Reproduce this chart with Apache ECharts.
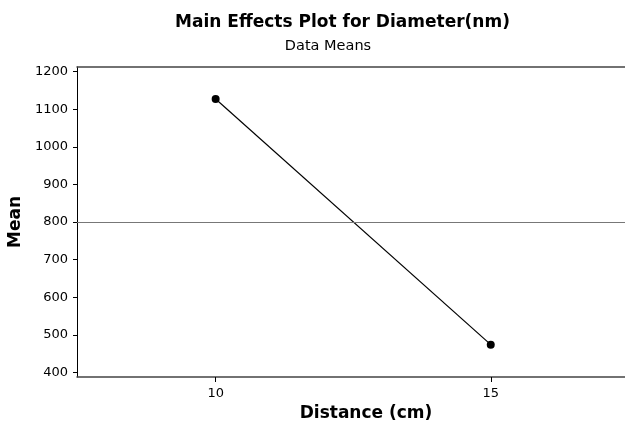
<!DOCTYPE html>
<html>
<head>
<meta charset="utf-8">
<script src="https://cdn.jsdelivr.net/npm/echarts@6/dist/echarts.min.js"></script>
<style>
html,body{margin:0;padding:0;background:#fff;}
#c{width:625px;height:422px;}
</style>
</head>
<body>
<div id="c"></div>
<script>
var distances = [10, 15];
var means = [1127, 474];
var grandMean = 800.5;
var yTicks = [400, 500, 600, 700, 800, 900, 1000, 1100, 1200];
var xTicks = [10, 15];

var FONT = '"DejaVu Sans", Verdana, sans-serif';
var chart = echarts.init(document.getElementById('c'), null, {renderer: 'canvas'});
chart.setOption({
  animation: false,
  backgroundColor: '#fff',
  title: [
    {text: 'Main Effects Plot for Diameter(nm)', left: 337.5, top: 9, textAlign: 'center',
     textStyle: {fontFamily: FONT, fontSize: 17, fontWeight: 'bold', color: '#000'}},
    {text: 'Data Means', left: 323, top: 34, textAlign: 'center',
     textStyle: {fontFamily: FONT, fontSize: 14.5, fontWeight: 'normal', color: '#000'}}
  ],
  grid: {left: 77, top: 67, right: 0, bottom: 45, show: false, containLabel: false, outerBoundsMode: 'none'},
  xAxis: [{
    type: 'value', min: 7.48, max: 17.44,
    name: 'Distance (cm)', nameLocation: 'middle', nameGap: 28,
    nameTextStyle: {fontFamily: FONT, fontSize: 17, fontWeight: 'bold', color: '#000', padding: [0, 0, 0, 30]},
    axisLine: {lineStyle: {color: '#444', width: 1.5}},
    axisTick: {show: true, inside: false, length: 5, customValues: xTicks, lineStyle: {color: '#000'}},
    axisLabel: {customValues: xTicks, margin: 10, fontFamily: FONT, fontSize: 13, color: '#000'},
    splitLine: {show: false}
  }, {
    type: 'value', position: 'top', min: 7.48, max: 17.44,
    axisLine: {show: true, lineStyle: {color: '#444', width: 1.5}},
    axisTick: {show: false}, axisLabel: {show: false}, splitLine: {show: false}
  }],
  yAxis: {
    type: 'value', min: 388, max: 1212,
    name: 'Mean', nameLocation: 'middle', nameGap: 48, nameRotate: 90,
    nameTextStyle: {fontFamily: FONT, fontSize: 17, fontWeight: 'bold', color: '#000'},
    axisLine: {show: true, lineStyle: {color: '#000', width: 1}},
    axisTick: {show: true, inside: false, length: 4, customValues: yTicks, lineStyle: {color: '#000'}},
    axisLabel: {customValues: yTicks, margin: 9, fontFamily: FONT, fontSize: 13, color: '#000',
                formatter: function (v) { return String(v); }},
    splitLine: {show: false}
  },
  series: [{
    type: 'line',
    data: distances.map(function (d, i) { return [d, means[i]]; }),
    symbol: 'circle', symbolSize: 8,
    itemStyle: {color: '#000'},
    lineStyle: {color: '#000', width: 1.2},
    markLine: {
      silent: true, symbol: 'none', label: {show: false},
      lineStyle: {color: '#777', width: 1, type: 'solid'},
      data: [{yAxis: grandMean}]
    }
  }]
});
</script>
</body>
</html>
